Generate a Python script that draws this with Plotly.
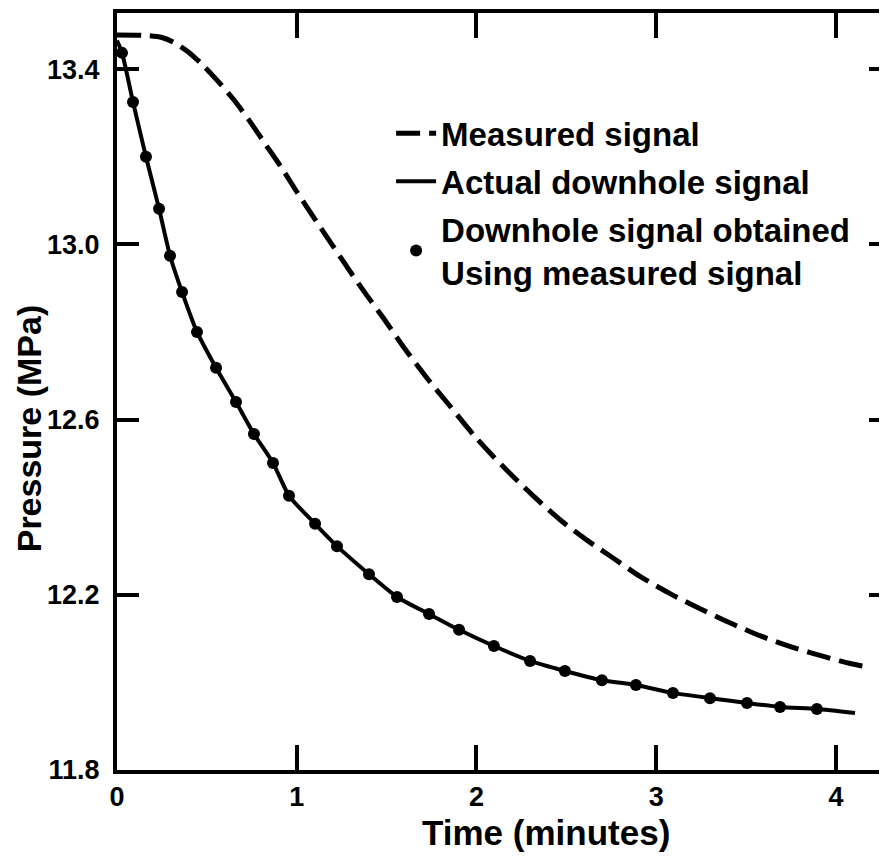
import plotly.graph_objects as go

# --- Data ---
# Measured signal (dashed)
measured_t = [0.0, 0.15, 0.25, 0.32, 0.40, 0.48, 0.56, 0.65, 0.74, 0.83, 0.92,
              1.00, 1.10, 1.20, 1.29, 1.38, 1.48, 1.59, 1.72, 1.85, 1.99,
              2.14, 2.31, 2.48, 2.62, 2.76, 2.91, 3.08, 3.23, 3.41, 3.58, 3.76,
              3.95, 4.08, 4.19]
measured_p = [13.478, 13.477, 13.472, 13.460, 13.438, 13.408, 13.373, 13.330, 13.280, 13.226,
              13.172, 13.120, 13.058, 12.997, 12.942, 12.889, 12.833, 12.768, 12.697, 12.632,
              12.562, 12.496, 12.428, 12.366, 12.323, 12.284, 12.242, 12.202, 12.171,
              12.136, 12.106, 12.080, 12.057, 12.043, 12.034]

# Actual downhole signal (solid)
actual_t = [0.0, 0.028, 0.089, 0.161, 0.234, 0.295, 0.362, 0.445, 0.551, 0.662, 0.762, 0.868,
            0.957, 1.102, 1.224, 1.402, 1.558, 1.736, 1.903, 2.097, 2.298, 2.492, 2.698,
            2.887, 3.093, 3.299, 3.505, 3.689, 3.894, 4.106]
actual_p = [13.465, 13.437, 13.325, 13.200, 13.081, 12.974, 12.891, 12.800, 12.718, 12.640,
            12.567, 12.501, 12.426, 12.362, 12.311, 12.247, 12.195, 12.156, 12.120, 12.083,
            12.049, 12.026, 12.005, 11.994, 11.976, 11.964, 11.953, 11.944, 11.939, 11.930]

# Downhole signal obtained using measured signal (dots)
dots_t = [0.028, 0.089, 0.161, 0.234, 0.295, 0.362, 0.445, 0.551, 0.662, 0.762, 0.868, 0.957,
          1.102, 1.224, 1.402, 1.558, 1.736, 1.903, 2.097, 2.298, 2.492, 2.698, 2.887, 3.093,
          3.299, 3.505, 3.689, 3.894]
dots_p = [13.437, 13.325, 13.200, 13.081, 12.974, 12.891, 12.800, 12.718, 12.640, 12.567,
          12.501, 12.426, 12.362, 12.311, 12.247, 12.195, 12.156, 12.120, 12.083, 12.049,
          12.026, 12.005, 11.994, 11.976, 11.964, 11.953, 11.944, 11.939]

x_ticks = [0, 1, 2, 3, 4]
x_ticktext = ["0", "1", "2", "3", "4"]
y_ticks = [11.8, 12.2, 12.6, 13.0, 13.4]
y_ticktext = ["11.8", "12.2", "12.6", "13.0", "13.4"]

FONT = "Liberation Sans, Arial, sans-serif"

fig = go.Figure()
fig.add_trace(go.Scatter(
    x=measured_t, y=measured_p, mode="lines", name="Measured signal",
    line=dict(color="black", width=5, dash="24px,9px", shape="spline", smoothing=0.8),
    legendgroup="a"))
fig.add_trace(go.Scatter(
    x=actual_t, y=actual_p, mode="lines", name="Actual downhole signal",
    line=dict(color="black", width=4, shape="spline", smoothing=0.6),
    legendgroup="b"))
fig.add_trace(go.Scatter(
    x=dots_t, y=dots_p, mode="markers",
    name="Downhole signal obtained<br>Using measured signal",
    marker=dict(color="black", size=12, line=dict(width=0)),
    legendgroup="c"))
# invisible helper trace for the right-hand tick axis
fig.add_trace(go.Scatter(x=dots_t, y=dots_p, yaxis="y2", mode="markers",
                         marker=dict(opacity=0), showlegend=False, hoverinfo="skip"))

fig.update_layout(
    width=879, height=851,
    margin=dict(l=109, r=0, t=5, b=89),
    paper_bgcolor="white", plot_bgcolor="white",
    font=dict(family=FONT, color="black", size=27, weight="bold"),
    xaxis=dict(range=[0, 4.284], tickvals=x_ticks, ticktext=x_ticktext,
               ticks="inside", ticklen=25, tickwidth=3.5, tickcolor="black",
               showline=True, linewidth=4, linecolor="black", mirror="ticks",
               showgrid=False, zeroline=False,
               tickfont=dict(family=FONT, size=27, weight="bold")),
    yaxis=dict(range=[11.8, 13.528], tickvals=y_ticks, ticktext=y_ticktext,
               ticks="inside", ticklen=22, tickwidth=3.5, tickcolor="black",
               showline=True, linewidth=4, linecolor="black",
               showgrid=False, zeroline=False, ticklabelstandoff=8,
               tickfont=dict(family=FONT, size=27, weight="bold")),
    yaxis2=dict(range=[11.8, 13.528], overlaying="y", side="right", tickvals=y_ticks,
                ticks="inside", ticklen=18, tickwidth=3.5, tickcolor="black",
                showline=False, showticklabels=False, showgrid=False, zeroline=False),
    legend=dict(x=0.356, y=0.878, xanchor="left", yanchor="top",
                bgcolor="rgba(0,0,0,0)", traceorder="grouped", tracegroupgap=2,
                itemwidth=40,
                font=dict(family=FONT, size=33, weight="bold", color="black")),
    showlegend=True,
    annotations=[
        dict(text="Time (minutes)", xref="paper", yref="paper", x=0.557, y=-0.082,
             xanchor="center", yanchor="middle",
             showarrow=False, font=dict(family=FONT, size=35, weight="bold")),
        dict(text="Pressure (MPa)", xref="paper", yref="paper", x=-0.115, y=0.452,
             xanchor="center", yanchor="middle",
             textangle=-90, showarrow=False, font=dict(family=FONT, size=34, weight="bold")),
    ],
)

fig.write_html("out.html")
